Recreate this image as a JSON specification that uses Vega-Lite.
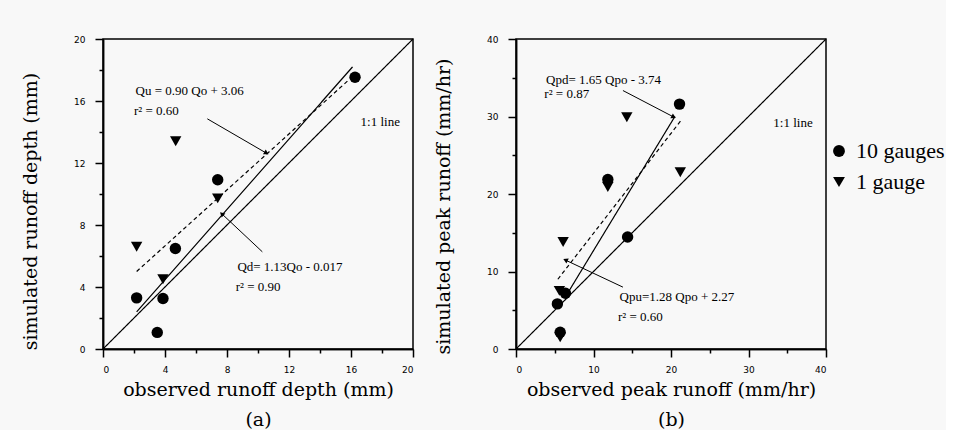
{
  "$schema": "https://vega.github.io/schema/vega-lite/v6.json",
  "background": "#f8f8f8",
  "padding": {"top": 34, "left": 20, "right": 0, "bottom": 0},
  "spacing": 18,
  "datasets": {
    "pts": [
      {"panel": "a", "type": "10 gauges", "x": 2.17, "y": 3.3},
      {"panel": "a", "type": "10 gauges", "x": 3.87, "y": 3.26},
      {"panel": "a", "type": "10 gauges", "x": 3.5, "y": 1.07},
      {"panel": "a", "type": "10 gauges", "x": 4.67, "y": 6.48},
      {"panel": "a", "type": "10 gauges", "x": 7.4, "y": 10.92},
      {"panel": "a", "type": "10 gauges", "x": 16.26, "y": 17.53},
      {"panel": "a", "type": "1 gauge", "x": 2.17, "y": 6.6},
      {"panel": "a", "type": "1 gauge", "x": 3.87, "y": 4.5},
      {"panel": "a", "type": "1 gauge", "x": 4.69, "y": 13.4},
      {"panel": "a", "type": "1 gauge", "x": 7.4, "y": 9.72},
      {"panel": "b", "type": "10 gauges", "x": 21.1, "y": 31.6},
      {"panel": "b", "type": "10 gauges", "x": 11.85, "y": 21.87},
      {"panel": "b", "type": "10 gauges", "x": 14.4, "y": 14.45},
      {"panel": "b", "type": "10 gauges", "x": 6.38, "y": 7.2},
      {"panel": "b", "type": "10 gauges", "x": 5.34, "y": 5.82},
      {"panel": "b", "type": "10 gauges", "x": 5.7, "y": 2.16},
      {"panel": "b", "type": "1 gauge", "x": 14.3, "y": 29.9},
      {"panel": "b", "type": "1 gauge", "x": 21.2, "y": 22.8},
      {"panel": "b", "type": "1 gauge", "x": 6.08, "y": 13.8},
      {"panel": "b", "type": "1 gauge", "x": 11.85, "y": 20.9},
      {"panel": "b", "type": "1 gauge", "x": 5.6, "y": 7.5},
      {"panel": "b", "type": "1 gauge", "x": 5.7, "y": 1.5}
    ],
    "lines": [
      {"panel": "a", "kind": "1:1", "x": 0, "y": 0, "x2": 20, "y2": 20},
      {"panel": "a", "kind": "fit-d", "x": 2.17, "y": 2.4, "x2": 16.1, "y2": 18.2},
      {"panel": "a", "kind": "fit-u", "x": 2.17, "y": 5.0, "x2": 15.9, "y2": 17.4},
      {"panel": "b", "kind": "1:1", "x": 0, "y": 0, "x2": 40, "y2": 40},
      {"panel": "b", "kind": "fit-d", "x": 6.3, "y": 6.6, "x2": 20.5, "y2": 30.0},
      {"panel": "b", "kind": "fit-u", "x": 5.4, "y": 9.0, "x2": 21.3, "y2": 29.5}
    ],
    "notes": [
      {"panel": "a", "x": 2.1, "y": 16.63, "label": "Qu = 0.90 Qo + 3.06"},
      {"panel": "a", "x": 2.0, "y": 15.34, "label": "r² = 0.60"},
      {"panel": "a", "x": 16.62, "y": 14.64, "label": "1:1 line"},
      {"panel": "a", "x": 8.67, "y": 5.26, "label": "Qd= 1.13Qo - 0.017"},
      {"panel": "a", "x": 8.56, "y": 3.97, "label": "r² = 0.90"},
      {"panel": "b", "x": 3.88, "y": 34.7, "label": "Qpd= 1.65 Qpo - 3.74"},
      {"panel": "b", "x": 3.66, "y": 32.95, "label": "r² = 0.87"},
      {"panel": "b", "x": 33.2, "y": 29.2, "label": "1:1 line"},
      {"panel": "b", "x": 13.36, "y": 6.69, "label": "Qpu=1.28 Qpo + 2.27"},
      {"panel": "b", "x": 13.15, "y": 4.1, "label": "r² = 0.60"}
    ],
    "arrows": [
      {"panel": "a", "x": 6.73, "y": 14.85, "x2": 10.5, "y2": 12.66},
      {"panel": "a", "x": 10.28, "y": 6.27, "x2": 7.7, "y2": 8.69},
      {"panel": "b", "x": 13.8, "y": 33.35, "x2": 20.26, "y2": 29.98},
      {"panel": "b", "x": 13.8, "y": 7.98, "x2": 6.47, "y2": 11.43}
    ]
  },
  "config": {
    "view": {"stroke": "black", "strokeWidth": 1.5},
    "axis": {
      "grid": false,
      "domainColor": "black",
      "domainWidth": 1.5,
      "tickColor": "black",
      "tickWidth": 1.5,
      "labelFont": "DejaVu Sans",
      "labelFontSize": 9,
      "labelColor": "black",
      "titleFont": "DejaVu Serif",
      "titleFontSize": 19,
      "titleFontWeight": "normal",
      "titleColor": "black"
    },
    "text": {"font": "Liberation Serif", "fontSize": 13, "color": "black"}
  },
  "resolve": {"scale": {"shape": "independent"}, "legend": {"shape": "independent"}},
  "hconcat": [
    {
      "width": 310,
      "height": 310,
      "resolve": {"axis": {"x": "independent", "y": "independent"}},
      "layer": [
        {
          "data": {"name": "lines"},
          "transform": [{"filter": "datum.panel === 'a'"}],
          "mark": {"type": "rule", "color": "black", "strokeWidth": 1.2},
          "encoding": {
            "x": {"field": "x", "type": "quantitative", "scale": {"domain": [0, 20], "nice": false},
              "axis": {"orient": "bottom", "title": ["observed runoff depth (mm)", "(a)"], "titleLineHeight": 30, "values": [0, 4, 8, 12, 16, 20],
                "tickSize": 8, "labelPadding": 8, "titlePadding": 6}},
            "y": {"field": "y", "type": "quantitative", "scale": {"domain": [0, 20], "nice": false},
              "axis": {"orient": "left", "title": "simulated runoff depth (mm)", "values": [0, 4, 8, 12, 16, 20],
                "tickSize": 8, "labelPadding": 10, "titlePadding": 33, "titleY": 172}},
            "x2": {"field": "x2"},
            "y2": {"field": "y2"},
            "strokeDash": {"field": "kind", "type": "nominal", "scale": {"domain": ["1:1", "fit-d", "fit-u"], "range": [[1, 0], [1, 0], [4, 3]]}, "legend": null}
          }
        },
        {
          "data": {"name": "arrows"},
          "transform": [{"filter": "datum.panel === 'a'"}],
          "mark": {"type": "rule", "color": "black", "strokeWidth": 1},
          "encoding": {
            "x": {"field": "x", "type": "quantitative",
              "axis": {"orient": "bottom", "title": null, "values": [2, 6, 10, 14, 18], "labels": false, "tickSize": 4}},
            "y": {"field": "y", "type": "quantitative",
              "axis": {"orient": "left", "title": null, "values": [2, 6, 10, 14, 18], "labels": false, "tickSize": 4}},
            "x2": {"field": "x2"},
            "y2": {"field": "y2"}
          }
        },
        {
          "data": {"name": "arrows"},
          "transform": [{"filter": "datum.panel === 'a'"}],
          "mark": {"type": "point", "shape": "triangle", "filled": true, "color": "black", "opacity": 1, "size": 30,
            "angle": {"expr": "atan2(datum.x2 - datum.x, datum.y2 - datum.y) * 180 / PI"}},
          "encoding": {
            "x": {"field": "x2", "type": "quantitative", "axis": null},
            "y": {"field": "y2", "type": "quantitative", "axis": null}
          }
        },
        {
          "data": {"name": "pts"},
          "transform": [{"filter": "datum.panel === 'a'"}],
          "mark": {"type": "point", "filled": true, "color": "black", "opacity": 1, "size": 130},
          "encoding": {
            "x": {"field": "x", "type": "quantitative", "axis": null},
            "y": {"field": "y", "type": "quantitative", "axis": null},
            "shape": {"field": "type", "type": "nominal", "scale": {"domain": ["10 gauges", "1 gauge"], "range": ["circle", "triangle-down"]}, "legend": null}
          }
        },
        {
          "data": {"name": "notes"},
          "transform": [{"filter": "datum.panel === 'a'"}],
          "mark": {"type": "text", "align": "left", "baseline": "middle"},
          "encoding": {
            "x": {"field": "x", "type": "quantitative", "axis": null},
            "y": {"field": "y", "type": "quantitative", "axis": null},
            "text": {"field": "label"}
          }
        }
      ]
    },
    {
      "width": 310,
      "height": 310,
      "resolve": {"axis": {"x": "independent", "y": "independent"}},
      "layer": [
        {
          "data": {"name": "lines"},
          "transform": [{"filter": "datum.panel === 'b'"}],
          "mark": {"type": "rule", "color": "black", "strokeWidth": 1.2},
          "encoding": {
            "x": {"field": "x", "type": "quantitative", "scale": {"domain": [0, 40], "nice": false},
              "axis": {"orient": "bottom", "title": ["observed peak runoff (mm/hr)", "(b)"], "titleLineHeight": 30, "values": [0, 10, 20, 30, 40],
                "tickSize": 8, "labelPadding": 8, "titlePadding": 6}},
            "y": {"field": "y", "type": "quantitative", "scale": {"domain": [0, 40], "nice": false},
              "axis": {"orient": "left", "title": "simulated peak runoff (mm/hr)", "values": [0, 10, 20, 30, 40],
                "tickSize": 8, "labelPadding": 10, "titlePadding": 33, "titleY": 167}},
            "x2": {"field": "x2"},
            "y2": {"field": "y2"},
            "strokeDash": {"field": "kind", "type": "nominal", "scale": {"domain": ["1:1", "fit-d", "fit-u"], "range": [[1, 0], [1, 0], [4, 3]]}, "legend": null}
          }
        },
        {
          "data": {"name": "arrows"},
          "transform": [{"filter": "datum.panel === 'b'"}],
          "mark": {"type": "rule", "color": "black", "strokeWidth": 1},
          "encoding": {
            "x": {"field": "x", "type": "quantitative",
              "axis": {"orient": "bottom", "title": null, "values": [5, 15, 25, 35], "labels": false, "tickSize": 4}},
            "y": {"field": "y", "type": "quantitative",
              "axis": {"orient": "left", "title": null, "values": [5, 15, 25, 35], "labels": false, "tickSize": 4}},
            "x2": {"field": "x2"},
            "y2": {"field": "y2"}
          }
        },
        {
          "data": {"name": "arrows"},
          "transform": [{"filter": "datum.panel === 'b'"}],
          "mark": {"type": "point", "shape": "triangle", "filled": true, "color": "black", "opacity": 1, "size": 30,
            "angle": {"expr": "atan2(datum.x2 - datum.x, datum.y2 - datum.y) * 180 / PI"}},
          "encoding": {
            "x": {"field": "x2", "type": "quantitative", "axis": null},
            "y": {"field": "y2", "type": "quantitative", "axis": null}
          }
        },
        {
          "data": {"name": "pts"},
          "transform": [{"filter": "datum.panel === 'b'"}],
          "mark": {"type": "point", "filled": true, "color": "black", "opacity": 1, "size": 130},
          "encoding": {
            "x": {"field": "x", "type": "quantitative", "axis": null},
            "y": {"field": "y", "type": "quantitative", "axis": null},
            "shape": {"field": "type", "type": "nominal", "scale": {"domain": ["10 gauges", "1 gauge"], "range": ["circle", "triangle-down"]},
              "legend": {"title": null, "orient": "none", "legendX": 312, "legendY": 101, "padding": 0,
                "symbolSize": 140, "symbolFillColor": "black", "symbolStrokeColor": "black", "symbolOpacity": 1,
                "labelFont": "Liberation Serif", "labelFontSize": 22, "labelColor": "black", "labelOffset": 6, "rowPadding": 9, "labelLimit": 200}}
          }
        },
        {
          "data": {"name": "notes"},
          "transform": [{"filter": "datum.panel === 'b'"}],
          "mark": {"type": "text", "align": "left", "baseline": "middle"},
          "encoding": {
            "x": {"field": "x", "type": "quantitative", "axis": null},
            "y": {"field": "y", "type": "quantitative", "axis": null},
            "text": {"field": "label"}
          }
        }
      ]
    }
  ]
}
